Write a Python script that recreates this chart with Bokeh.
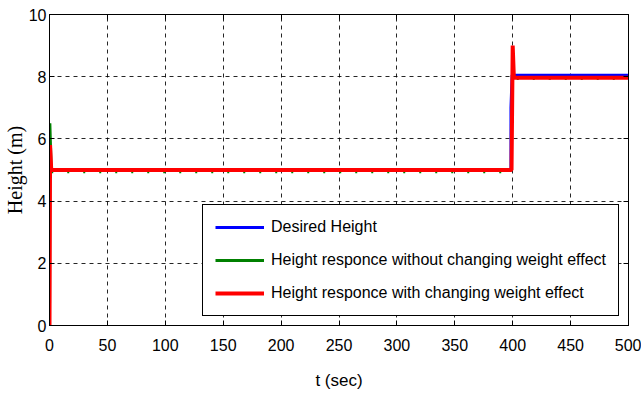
from bokeh.plotting import figure
from bokeh.models import FixedTicker, LinearAxis, Legend, LegendItem, Range1d
from bokeh.embed import file_html
from bokeh.resources import INLINE

# ---- data ----
x_ticks = [0, 50, 100, 150, 200, 250, 300, 350, 400, 450, 500]
y_ticks = [0, 2, 4, 6, 8, 10]

desired_t = [0, 398.5, 398.5, 399.5, 500]
desired_h = [5.0, 5.0, 7.0, 8.05, 8.05]

nochange_start_t = [0, 0.3, 1.5]
nochange_start_h = [0.0, 6.5, 4.93]
nochange_t = [1.5, 399, 400, 401, 500]
nochange_h = [4.93, 4.93, 8.5, 7.93, 7.93]

change_t = [0, 0.5, 1.5, 399, 400, 401, 500]
change_h = [0.0, 5.8, 5.0, 5.0, 9.0, 7.97, 7.97]

SANS = "Liberation Sans"

p = figure(frame_width=579, frame_height=311, output_backend="svg", toolbar_location=None,
           x_range=Range1d(0, 500), y_range=Range1d(0, 10),
           min_border_left=42, min_border_right=13, min_border_top=14, min_border_bottom=10)
p.background_fill_color = "white"
p.border_fill_color = "white"
p.outline_line_color = "black"
p.outline_line_width = 1

for ax in (p.xaxis[0], p.yaxis[0]):
    ax.major_tick_in = 5
    ax.major_tick_out = 0
    ax.minor_tick_line_color = None
    ax.axis_line_color = "black"
    ax.major_tick_line_color = "black"
    ax.major_label_text_font = SANS
    ax.major_label_text_font_size = "16px"
    ax.major_label_text_color = "black"
    ax.axis_label_text_color = "black"
    ax.axis_label_text_font_style = "normal"

p.xaxis[0].ticker = FixedTicker(ticks=x_ticks)
p.yaxis[0].ticker = FixedTicker(ticks=y_ticks)
p.xaxis[0].major_label_standoff = 13
p.yaxis[0].major_label_standoff = 3
p.xaxis[0].axis_label = "t (sec)"
p.xaxis[0].axis_label_text_font = SANS
p.xaxis[0].axis_label_text_font_size = "17px"
p.xaxis[0].axis_label_standoff = 17
p.yaxis[0].axis_label = "Height (m)"
p.yaxis[0].axis_label_text_font = "Liberation Serif"
p.yaxis[0].axis_label_text_font_size = "20px"
p.yaxis[0].axis_label_standoff = 0

# ticks on top and right (no labels)
top = LinearAxis(ticker=FixedTicker(ticks=x_ticks), major_tick_in=5, major_tick_out=0,
                 minor_tick_line_color=None, major_label_text_font_size="1px",
                 major_label_overrides={t: "" for t in x_ticks},
                 major_label_standoff=0, axis_line_color="black")
right = LinearAxis(ticker=FixedTicker(ticks=y_ticks), major_tick_in=5, major_tick_out=0,
                   minor_tick_line_color=None, major_label_text_font_size="1px",
                   major_label_overrides={t: "" for t in y_ticks},
                   major_label_standoff=0, axis_line_color="black")
p.add_layout(top, "above")
p.add_layout(right, "right")

p.xgrid.ticker = FixedTicker(ticks=x_ticks)
p.ygrid.ticker = FixedTicker(ticks=y_ticks)
for g in (p.xgrid[0], p.ygrid[0]):
    g.grid_line_color = "black"
    g.grid_line_dash = "4 4"
    g.grid_line_width = 1
    g.grid_line_alpha = 0.85

r_blue = p.line(desired_t, desired_h, line_color="#0000ff", line_width=3)
r_green0 = p.line(nochange_start_t, nochange_start_h, line_color="#008000", line_width=3)
r_green = p.line(nochange_t, nochange_h, line_color="#008000", line_width=2, line_dash="2 14")
r_red = p.line(change_t, change_h, line_color="#ff0000", line_width=4)

legend = Legend(items=[
    LegendItem(label="Desired Height", renderers=[r_blue]),
    LegendItem(label="Height responce without changing weight effect", renderers=[r_green0]),
    LegendItem(label="Height responce with changing weight effect", renderers=[r_red]),
], location=(153, 9))
legend.label_text_font = SANS
legend.label_text_font_size = "16px"
legend.label_text_color = "black"
legend.glyph_width = 49
legend.label_standoff = 7
legend.padding = 12
legend.spacing = 13
legend.border_line_color = "black"
legend.border_line_width = 1
legend.border_line_alpha = 1
legend.background_fill_alpha = 1
legend.margin = 0
p.add_layout(legend, "center")

open("out.html", "w").write(file_html(p, INLINE))
